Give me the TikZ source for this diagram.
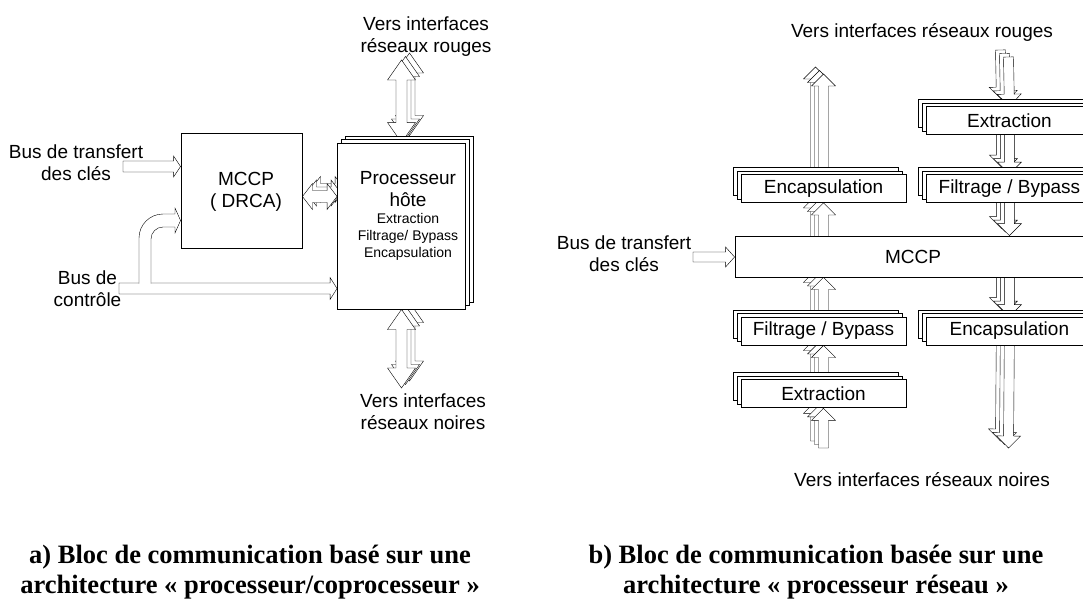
\documentclass[tikz,border=0pt]{standalone}
\usepackage{fontspec}
\setmainfont{Liberation Sans}
\newfontfamily\capfont{Liberation Serif}
\usetikzlibrary{calc,
                positioning,
                shadows}
\pgfdeclarelayer{bg}
\pgfsetlayers{bg,main}
\tikzset{
    lbl/.style={font=\fontsize{19}{22}\selectfont, align=center, inner sep=0pt},
    tasks/.style={font=\fontsize{14}{17}\selectfont, align=center, inner sep=0pt},
    legend/.style={font=\capfont\bfseries\fontsize{26.5}{30}\selectfont, align=center, inner sep=0pt},
    base/.style={draw, fill=white, inner sep=0pt},
    pileA/.style={copy shadow={shadow xshift=8pt, shadow yshift=7pt, draw=black, fill=white},
                  copy shadow={shadow xshift=4pt, shadow yshift=3.5pt, draw=black, fill=white}},
    pileB/.style={copy shadow={shadow xshift=-8pt, shadow yshift=7pt, draw=black, fill=white},
                  copy shadow={shadow xshift=-4pt, shadow yshift=3.5pt, draw=black, fill=white}},
    sheet/.style={base, pileA, minimum width=128, minimum height=166},
    stage/.style={base, pileB, lbl, minimum width=165, minimum height=28},
    fatset/.code args={#1/#2/#3}{\def\fatW{#1pt}\def\fatH{#2pt}\def\fatL{#3pt}},
    % hollow bus arrow, one head
    fat/.style={draw, fill=white, fatset=#1,
        to path={
          ($(\tikztostart)!\fatW!90:(\tikztotarget)$)
          -- ($(\tikztotarget)!\fatL!(\tikztostart)!\fatW!90:(\tikztotarget)$)
          -- ($(\tikztotarget)!\fatL!(\tikztostart)!\fatH!90:(\tikztotarget)$)
          -- (\tikztotarget)
          -- ($(\tikztotarget)!\fatL!(\tikztostart)!\fatH!-90:(\tikztotarget)$)
          -- ($(\tikztotarget)!\fatL!(\tikztostart)!\fatW!-90:(\tikztotarget)$)
          -- ($(\tikztostart)!\fatW!-90:(\tikztotarget)$)
          -- cycle}},
    % hollow bus arrow, two heads
    fatboth/.style={draw, fill=white, fatset=#1,
        to path={
          ($(\tikztostart)!\fatL!(\tikztotarget)!\fatW!90:(\tikztotarget)$)
          -- ($(\tikztotarget)!\fatL!(\tikztostart)!\fatW!90:(\tikztotarget)$)
          -- ($(\tikztotarget)!\fatL!(\tikztostart)!\fatH!90:(\tikztotarget)$)
          -- (\tikztotarget)
          -- ($(\tikztotarget)!\fatL!(\tikztostart)!\fatH!-90:(\tikztotarget)$)
          -- ($(\tikztotarget)!\fatL!(\tikztostart)!\fatW!-90:(\tikztotarget)$)
          -- ($(\tikztostart)!\fatL!(\tikztotarget)!\fatW!-90:(\tikztotarget)$)
          -- ($(\tikztostart)!\fatL!(\tikztotarget)!\fatH!-90:(\tikztotarget)$)
          -- (\tikztostart)
          -- ($(\tikztostart)!\fatL!(\tikztotarget)!\fatH!90:(\tikztotarget)$)
          -- cycle}},
}

\begin{document}
\begin{tikzpicture}[x=1pt, y=-1pt, line width=0.9pt, line join=miter]

    \useasboundingbox (0,0) rectangle (1083,599);
    \clip (0,0) rectangle (1083,599);

    % a) processeur / coprocesseur
    \node[lbl] (redA) at (426,37) {Vers interfaces\\réseaux rouges};
    \node[lbl] (blackA) at (423,411.5) {Vers interfaces\\réseaux noires};
    \node[lbl] (keysA) at (76,163) {Bus de transfert\\des clés};
    \node[lbl] (ctrlA) at (87.5,289) {Bus de\\contrôle};

    \node[base, minimum width=121, minimum height=115] (mccpA) at (241.5,190.5) {};
    \node[lbl] (mccpAtxt) at (246,191.5) {MCCP\\( DRCA)};

    \node[sheet] (proc) at (401.5,226) {};
    \node[lbl] (procTitle) at (408,189) {Processeur\\hôte};
    \node[tasks] (procTasks) at (408,237) {Extraction\\Filtrage/ Bypass\\Encapsulation};

    \coordinate (keysAend) at (123,166.5);
    \coordinate (keysAtip) at (keysAend -| mccpA.west);
    \coordinate (ctrlAend) at (119,288.5);
    \coordinate (ctrlAtip) at (ctrlAend -| proc.west);
    \coordinate (ctrlAbend) at ([yshift=-30pt]mccpA.west);
    \coordinate (linkA) at ([yshift=-6pt]mccpA.east);
    \coordinate (linkAend) at (linkA -| proc.west);
    \coordinate (redAend) at (401.5,60);
    \coordinate (blackAend) at (401.5,388);

    % b) processeur reseau
    \node[lbl] (redB) at (922,32) {Vers interfaces réseaux rouges};
    \node[lbl] (blackB) at (922,480) {Vers interfaces réseaux noires};
    \node[lbl] (keysB) at (624,254) {Bus de transfert\\des clés};

    \node[stage] (encTL) at (823.5,188.5) {Encapsulation};
    \node[stage, right=20pt of encTL] (filTR) {Filtrage / Bypass};
    \node[stage, above=39pt of filTR] (extTR) {Extraction};
    \node[base, lbl, minimum width=356, minimum height=41] (mccpB) at (913,256.5) {MCCP};
    \node[stage] (filBL) at (823.5,331) {Filtrage / Bypass};
    \node[stage, right=20pt of filBL] (encBR) {Encapsulation};
    \node[stage, below=34pt of filBL] (extBL) {Extraction};

    \coordinate (keysBend) at (693,257);
    \coordinate (keysBtip) at (keysBend -| mccpB.west);
    \coordinate (upL) at (823.5,74);
    \coordinate (inL) at (823.5,448);
    \coordinate (redBend) at (1008.5,57);
    \coordinate (dnR) at (1008.5,448);
    \coordinate (mccpBbotL) at (filBL |- mccpB.south);
    \coordinate (mccpBmidL) at (encTL |- mccpB.center);
    \coordinate (mccpBtopR) at (filTR |- mccpB.north);
    \coordinate (mccpBmidR) at (encBR |- mccpB.center);

    \node[legend] (capA) at (250,572) {a) Bloc de communication basé sur une\\architecture « processeur/coprocesseur »};
    \node[legend] (capB) at (816,572) {b) Bloc de communication basée sur une\\architecture « processeur réseau »};

    \begin{pgfonlayer}{bg}
        \draw[fat=5.5/10.5/7] (keysAend) to (keysAtip);
        \draw[fat=5.5/11/7] (ctrlAend) to (ctrlAtip);
        \fill[white] (139,289) -- (139,238) arc[start angle=180, end angle=90, radius=24pt]
            -- (175,214) -- (175,227) -- (163,227)
            arc[start angle=90, end angle=180, radius=12pt] -- (151,289) -- cycle;
        \draw (139,283.5) -- (139,238) arc[start angle=180, end angle=90, radius=24pt]
            -- (175,214) -- (175,208) -- (ctrlAbend) -- (175,233) -- (175,227) -- (163,227)
            arc[start angle=90, end angle=180, radius=12pt] -- (151,283.5);
        \draw[fatboth=6/13/10, pileA] (linkA) to (linkAend);
        \draw[fatboth=5.5/14/20, pileA] (redAend) to (proc.north);
        \draw[fatboth=5.5/14/20, pileA] (proc.south) to (blackAend);

        \draw[fat=5/10/9] (keysBend) to (keysBtip);
        \draw[fat=5/12/12, pileB] (inL) to (extBL.south);
        \draw[fat=5/12/12, pileB] (extBL.center) to (filBL.south);
        \draw[fat=5/12/12, pileB] (filBL.center) to (mccpBbotL);
        \draw[fat=5/12/12, pileB] (mccpBmidL) to (encTL.south);
        \draw[fat=5/12/12, pileB] (encTL.center) to (upL);
        \draw[fat=5/12/12, pileB] (redBend) to (extTR.north);
        \draw[fat=5/12/12, pileB] (extTR.center) to (filTR.north);
        \draw[fat=5/12/12, pileB] (filTR.center) to (mccpBtopR);
        \draw[fat=5/12/12, pileB] (mccpBmidR) to (encBR.north);
        \draw[fat=5/12/12, pileB] (encBR.center) to (dnR);
    \end{pgfonlayer}

\end{tikzpicture}
\end{document}
